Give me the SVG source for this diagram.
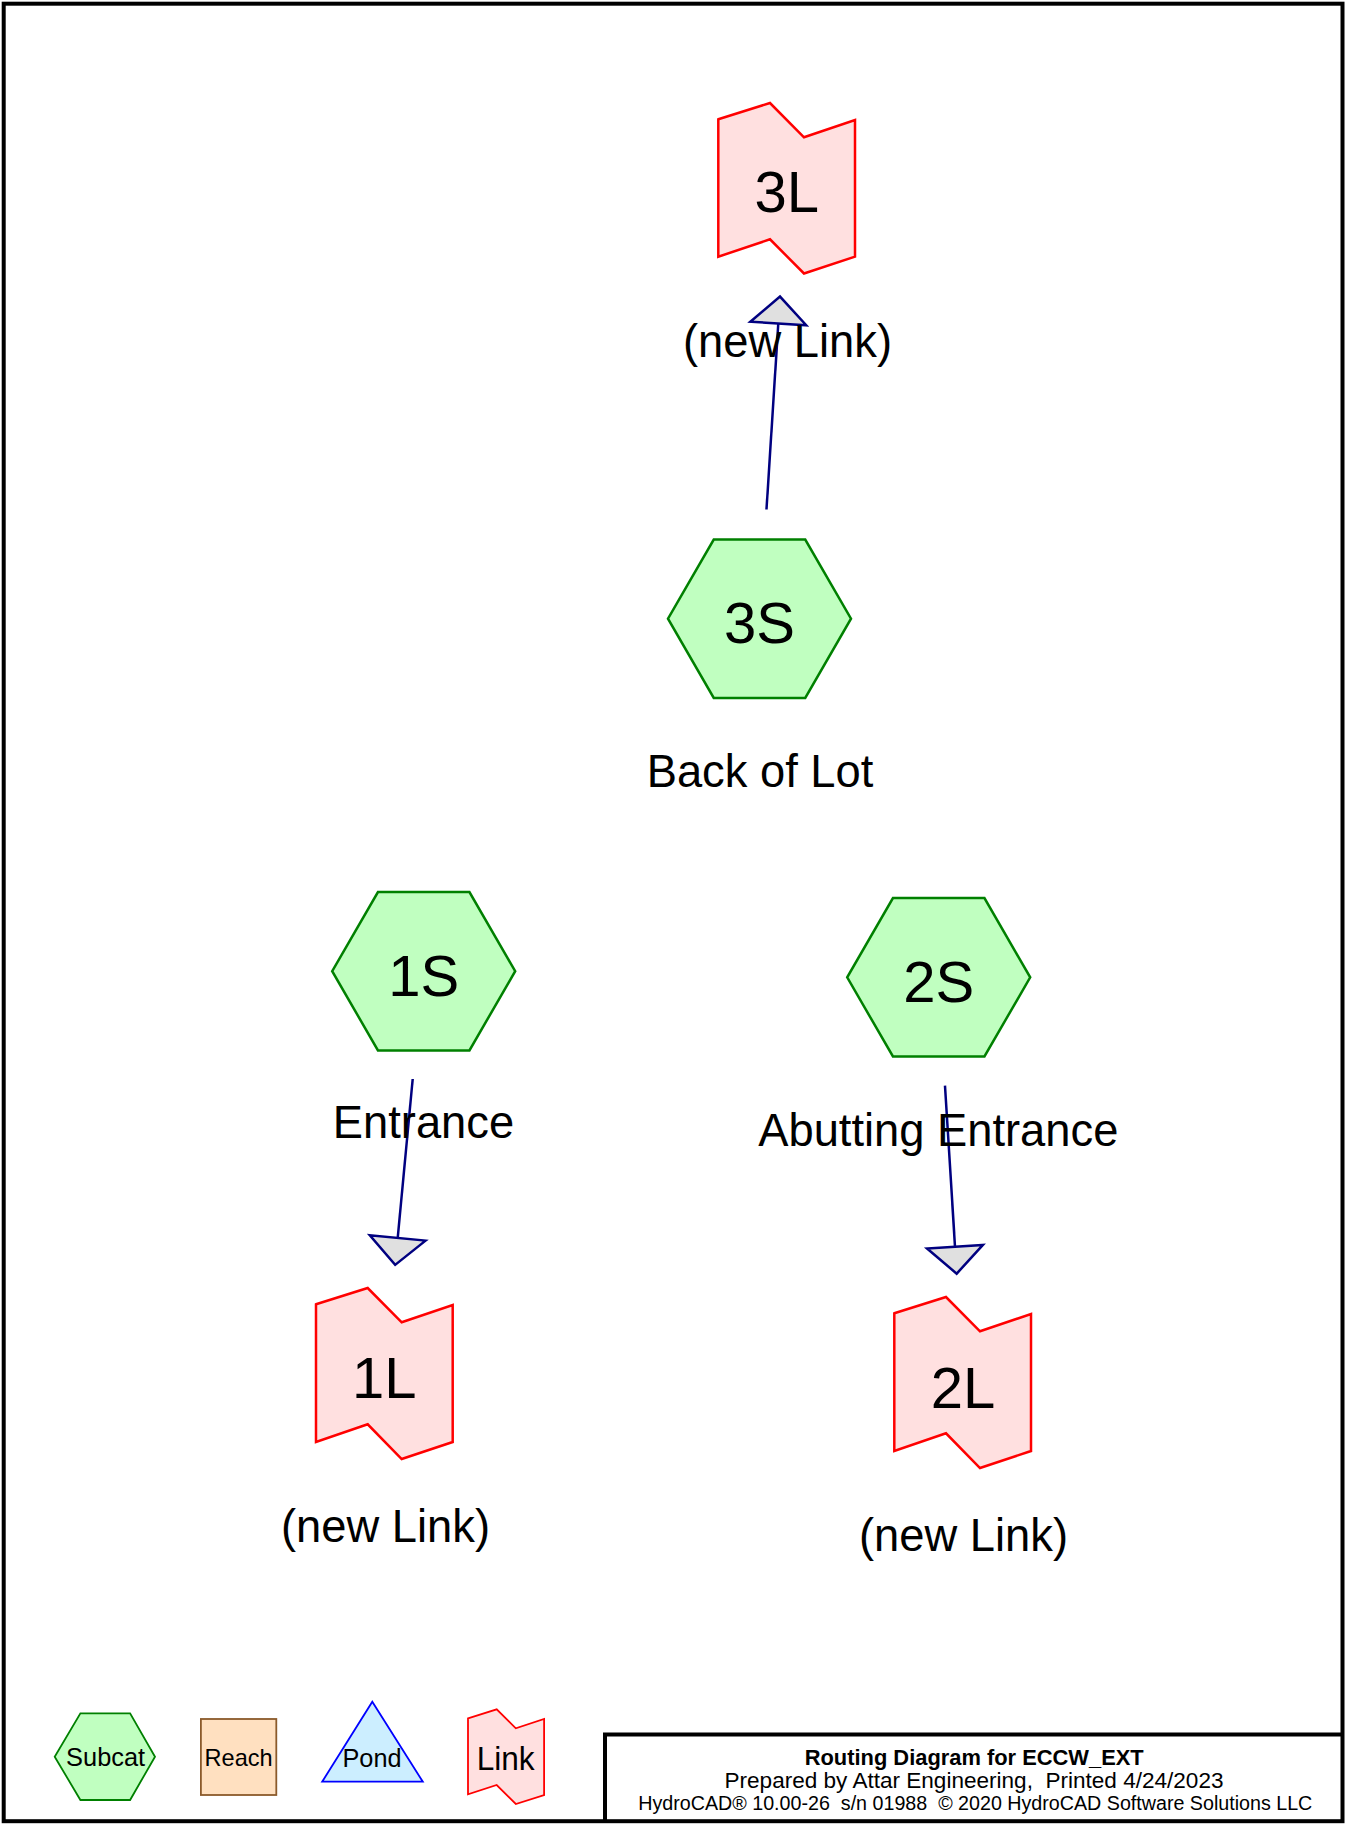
<svg xmlns="http://www.w3.org/2000/svg" width="1345" height="1825" viewBox="0 0 1345 1825">
<style>
text{font-family:"Liberation Sans",Arial,sans-serif;fill:#000;text-anchor:middle}
.lbl{font-size:58px}
.cap{font-size:45.3px}
.sub{fill:#c0ffc0;stroke:#008000;stroke-width:2.5;stroke-linejoin:miter}
.lnk{fill:#ffe0e0;stroke:#ff0000;stroke-width:2.5}
.edge{stroke:#000080;stroke-width:2.5;fill:none;marker-end:url(#ah)}
.frame{fill:none;stroke:#000;stroke-width:4}
.pre{white-space:pre}
</style>
<defs>
<marker id="ah" markerUnits="userSpaceOnUse" viewBox="-4 -4 40 64" markerWidth="40" markerHeight="64" refX="0" refY="28" orient="auto" overflow="visible">
<path d="M0,0 L27,28 L0,56 Z" fill="#e0e0e0" stroke="#000080" stroke-width="2.5" stroke-linejoin="miter"/>
</marker>
</defs>
<rect x="0" y="0" width="1345" height="1825" fill="#fff"/>
<rect class="frame" x="3.7" y="3.7" width="1338.8" height="1817.5"/>

<g id="connectors">
<line class="edge" x1="766.5" y1="509.5" x2="778.3" y2="323.5"/>
<line class="edge" x1="412.7" y1="1079" x2="397.7" y2="1238"/>
<line class="edge" x1="945" y1="1085.7" x2="955" y2="1246.7"/>
</g>

<g id="node-3L">
<polygon class="lnk" points="718.3,119.3 770,103 804,137.3 855,120 855,256.7 804,273.5 770,239.3 718.3,256.7"/>
<text class="lbl" x="786.7" y="211.7">3L</text>
<text class="cap" x="787.5" y="356.7">(new Link)</text>
</g>

<g id="node-3S">
<polygon class="sub" points="713.75,539.5 805.25,539.5 851,618.7 805.25,697.9 713.75,697.9 668,618.7"/>
<text class="lbl" x="759.5" y="643.3">3S</text>
<text class="cap" x="760" y="786.7">Back of Lot</text>
</g>

<g id="node-1S">
<polygon class="sub" points="377.95,892 469.45,892 515.2,971.2 469.45,1050.4 377.95,1050.4 332.2,971.2"/>
<text class="lbl" x="423.7" y="996">1S</text>
<text class="cap" x="423.5" y="1138.3">Entrance</text>
</g>

<g id="node-2S">
<polygon class="sub" points="892.95,898.1 984.45,898.1 1030.2,977.3 984.45,1056.5 892.95,1056.5 847.2,977.3"/>
<text class="lbl" x="938.7" y="1001.7">2S</text>
<text class="cap" x="938.3" y="1145.7">Abutting Entrance</text>
</g>

<g id="node-1L">
<polygon class="lnk" points="316,1304.3 367.7,1288 401.7,1322.3 452.7,1305 452.7,1442 401.7,1459 367.7,1424.3 316,1442"/>
<text class="lbl" x="384.3" y="1398.3">1L</text>
<text class="cap" x="385.5" y="1542">(new Link)</text>
</g>

<g id="node-2L">
<polygon class="lnk" points="894.3,1313.3 946,1297 980,1331.3 1031,1314 1031,1451 980,1468 946,1433.3 894.3,1451"/>
<text class="lbl" x="963" y="1408">2L</text>
<text class="cap" x="963.5" y="1550.7">(new Link)</text>
</g>

<g id="legend">
<polygon points="80.4,1713.3 130.1,1713.3 155,1756.7 130.1,1800 80.4,1800 54.7,1756.7" fill="#c0ffc0" stroke="#008000" stroke-width="1.8"/>
<text x="105.6" y="1766" font-size="25" textLength="79" lengthAdjust="spacingAndGlyphs">Subcat</text>
<rect x="200.9" y="1719" width="75.4" height="76" fill="#ffe0c0" stroke="#8b5a2b" stroke-width="1.8"/>
<text x="238.6" y="1766" font-size="24" textLength="68" lengthAdjust="spacingAndGlyphs">Reach</text>
<polygon points="372.3,1701.7 422.8,1781.7 322.2,1781.7" fill="#cceeff" stroke="#0000ff" stroke-width="1.8"/>
<text x="372" y="1767" font-size="25" textLength="59" lengthAdjust="spacingAndGlyphs">Pond</text>
<polygon points="468,1718.3 496.7,1709.3 515.8,1728.3 544.1,1719 544.1,1795 515.8,1804 496.7,1785 468,1794.3" fill="#ffe0e0" stroke="#ff0000" stroke-width="1.8"/>
<text x="505.7" y="1770" font-size="33" textLength="58" lengthAdjust="spacingAndGlyphs">Link</text>
</g>

<g id="title-block">
<path class="frame" d="M605,1821 L605,1734.5 L1342,1734.5"/>
<text x="974.2" y="1765" font-size="22" font-weight="bold" textLength="339" lengthAdjust="spacingAndGlyphs">Routing Diagram for ECCW_EXT</text>
<text class="pre" xml:space="preserve" x="974" y="1788.3" font-size="21.5" textLength="499" lengthAdjust="spacingAndGlyphs">Prepared by Attar Engineering,  Printed 4/24/2023</text>
<text class="pre" xml:space="preserve" x="975.3" y="1810" font-size="19.5" textLength="674" lengthAdjust="spacingAndGlyphs">HydroCAD® 10.00-26  s/n 01988  © 2020 HydroCAD Software Solutions LLC</text>
</g>
</svg>
